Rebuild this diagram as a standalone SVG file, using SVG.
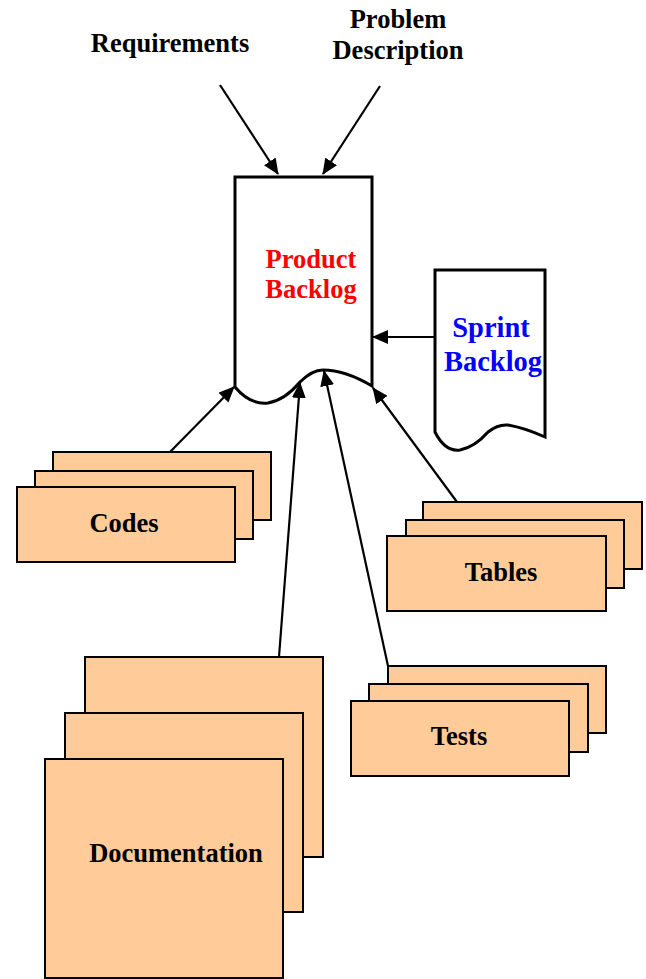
<svg xmlns="http://www.w3.org/2000/svg" width="646" height="979" viewBox="0 0 646 979">
<defs>
<style>
text{font-family:"Liberation Serif","Times New Roman",serif;font-weight:bold;text-anchor:middle}
.lbl{font-size:26.5px;fill:#000}
.doc{fill:#fff;stroke:#000;stroke-width:3}
.card{fill:#FFCC99;stroke:#000;stroke-width:2}
.conn{stroke:#000;stroke-width:2.2;fill:none;marker-end:url(#ah)}
</style>
<marker id="ah" viewBox="0 0 16 14" refX="15" refY="7" markerWidth="16" markerHeight="14" markerUnits="userSpaceOnUse" orient="auto">
<path d="M0,0 L16,7 L0,14 z" fill="#000"/>
</marker>
</defs>
<rect width="646" height="979" fill="#fff"/>

<g id="requirements"><text class="lbl" x="170" y="52">Requirements</text></g>
<g id="problem"><text class="lbl" x="398" y="28">Problem</text><text class="lbl" x="398" y="59">Description</text></g>

<g id="product-backlog">
<path class="doc" d="M235,387 L235,177 L372,177 L372,386 Q345,370 323,370 Q312,370 300,382 Q285,400 268,403 Q250,405 235,387 z"/>
<text x="311" y="268" font-size="26.5" fill="#FF0000">Product</text>
<text x="311" y="298" font-size="26.5" fill="#FF0000">Backlog</text>
</g>

<g id="sprint-backlog">
<path class="doc" d="M435,432 L435,270 L545,270 L545,437 Q525,428 508,425 Q498,424 488,432 Q475,447 460,450 Q445,452 435,432 z"/>
<text x="491" y="337" font-size="28.5" fill="#0000FF">Sprint</text>
<text x="493" y="371" font-size="28.5" fill="#0000FF">Backlog</text>
</g>

<g id="codes">
<rect class="card" x="53" y="452" width="218" height="68"/>
<rect class="card" x="35" y="471" width="218" height="68"/>
<rect class="card" x="17" y="487" width="218" height="75"/>
<text class="lbl" x="124" y="532">Codes</text>
</g>

<g id="tables">
<rect class="card" x="423" y="502" width="219" height="67"/>
<rect class="card" x="406" y="520" width="218" height="68"/>
<rect class="card" x="387" y="536" width="219" height="75"/>
<text class="lbl" x="501" y="581">Tables</text>
</g>

<g id="tests">
<rect class="card" x="388" y="666" width="218" height="67"/>
<rect class="card" x="369" y="684" width="219" height="68"/>
<rect class="card" x="351" y="701" width="218" height="75"/>
<text class="lbl" x="459" y="745">Tests</text>
</g>

<g id="documentation">
<rect class="card" x="85" y="657" width="238" height="200"/>
<rect class="card" x="65" y="713" width="238" height="199"/>
<rect class="card" x="45" y="759" width="238" height="219"/>
<text class="lbl" x="176" y="862">Documentation</text>
</g>

<g id="connectors">
<line class="conn" x1="220" y1="85" x2="278" y2="174"/>
<line class="conn" x1="380" y1="86" x2="323" y2="174"/>
<line class="conn" x1="435" y1="337" x2="373" y2="337"/>
<line class="conn" x1="170" y1="452" x2="234" y2="387"/>
<line class="conn" x1="457" y1="502" x2="373" y2="388"/>
<line class="conn" x1="388" y1="666" x2="324" y2="371"/>
<line class="conn" x1="279" y1="657" x2="300" y2="383"/>
</g>
</svg>
